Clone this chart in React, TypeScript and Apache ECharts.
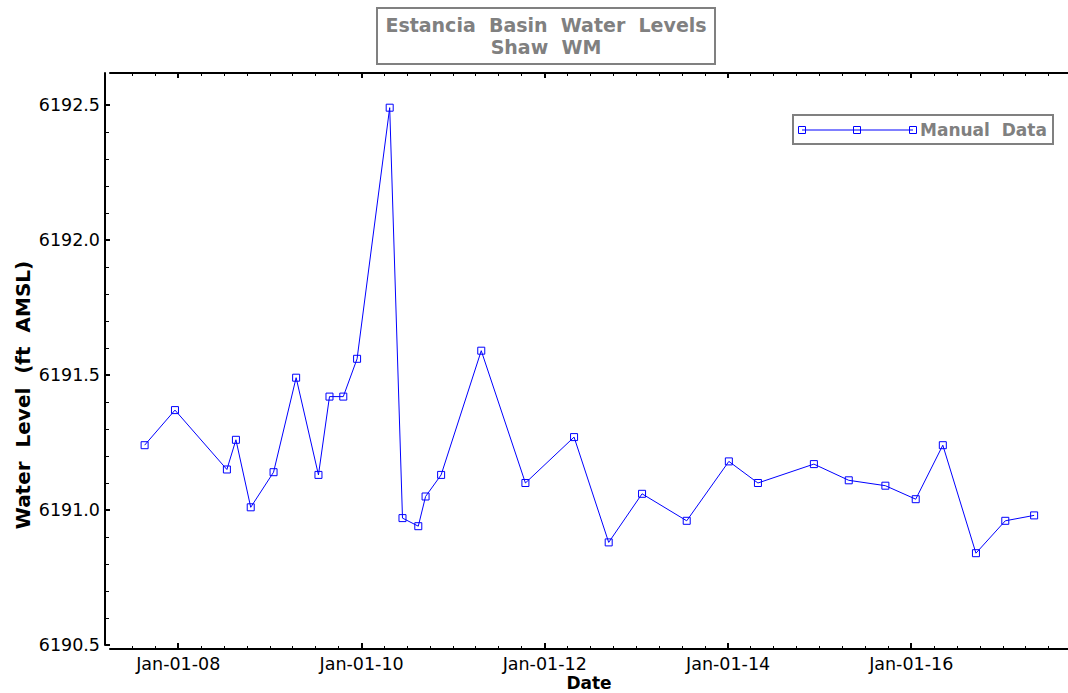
import React, { useEffect, useRef } from "react";
import * as echarts from "echarts";

// ---- Data ----
const DATES = [
  "2007-08-20", "2007-12-19", "2008-07-13", "2008-08-18", "2008-10-16",
  "2009-01-15", "2009-04-15", "2009-07-13", "2009-08-26", "2009-10-20",
  "2009-12-14", "2010-04-23", "2010-06-13", "2010-08-15", "2010-09-13",
  "2010-11-14", "2011-04-23", "2011-10-16", "2012-04-27", "2012-09-12",
  "2013-01-23", "2013-07-20", "2014-01-04", "2014-04-30", "2014-12-09",
  "2015-04-27", "2015-09-20", "2016-01-19", "2016-05-06", "2016-09-15",
  "2017-01-10", "2017-05-05",
];
const LEVELS = [
  6191.24, 6191.37, 6191.15, 6191.26, 6191.01,
  6191.14, 6191.49, 6191.13, 6191.42, 6191.42,
  6191.56, 6192.49, 6190.97, 6190.94, 6191.05,
  6191.13, 6191.59, 6191.10, 6191.27, 6190.88,
  6191.06, 6190.96, 6191.18, 6191.10, 6191.17,
  6191.11, 6191.09, 6191.04, 6191.24, 6190.84,
  6190.96, 6190.98,
];
const SERIES_NAME = "Manual  Data";
const TITLE_TEXT = "Estancia  Basin  Water  Levels\nShaw  WM";
const X_NAME = "Date";
const Y_NAME = "Water  Level  (ft  AMSL)";

const X_MAJOR_TICKS = ["2008-01-01", "2010-01-01", "2012-01-01", "2014-01-01", "2016-01-01"];
const X_MIN_DATE = "2007-04-04";
const X_MAX_DATE = "2017-09-17";
const Y_MAJOR_TICKS = [6190.5, 6191.0, 6191.5, 6192.0, 6192.5];
const Y_MINOR_TICKS = [
  6190.6, 6190.7, 6190.8, 6190.9,
  6191.1, 6191.2, 6191.3, 6191.4,
  6191.6, 6191.7, 6191.8, 6191.9,
  6192.1, 6192.2, 6192.3, 6192.4,
];
const Y_MIN = 6190.5;
const Y_MAX = 6192.6185;

const MONTHS = ["Jan", "Feb", "Mar", "Apr", "May", "Jun", "Jul", "Aug", "Sep", "Oct", "Nov", "Dec"];
const FONT = "DejaVu Sans";

function quarterTicks(minTs: number, maxTs: number, majors: number[]): number[] {
  const out: number[] = [];
  for (let y = 2006; y <= 2018; y++) {
    for (let m = 0; m < 12; m += 3) {
      const t = Date.UTC(y, m, 1);
      if (t > minTs && t < maxTs && majors.indexOf(t) < 0) out.push(t);
    }
  }
  return out;
}

export default function App() {
  const ref = useRef<HTMLDivElement>(null);
  useEffect(() => {
    if (!ref.current) return;
    const chart = echarts.init(ref.current, undefined, { renderer: "svg" });
    const xMin = Date.parse(X_MIN_DATE);
    const xMax = Date.parse(X_MAX_DATE);
    const xMajor = X_MAJOR_TICKS.map((d) => Date.parse(d));
    const xMinor = quarterTicks(xMin, xMax, xMajor);
    const fmt = (v: number) => {
      const d = new Date(v);
      const yy = String(d.getUTCFullYear() % 100).padStart(2, "0");
      const dd = String(d.getUTCDate()).padStart(2, "0");
      return `${MONTHS[d.getUTCMonth()]}-${dd}-${yy}`;
    };
    const blue = "#0000ff";
    const gray = "#808080";
    const baseX = {
      type: "value",
      gridIndex: 0,
      min: xMin,
      max: xMax,
      splitLine: { show: false },
    };
    const baseY = {
      type: "value",
      gridIndex: 0,
      min: Y_MIN,
      max: Y_MAX,
      splitLine: { show: false },
    };
    chart.setOption({
      animation: false,
      backgroundColor: "#ffffff",
      title: {
        text: TITLE_TEXT,
        left: 537,
        top: 8,
        textAlign: "center",
        padding: [6, 9, 6, 9],
        borderColor: gray,
        borderWidth: 2,
        textStyle: {
          fontFamily: FONT,
          fontSize: 19,
          fontWeight: "bold",
          color: gray,
          lineHeight: 22,
        },
      },
      grid: {
        left: 110,
        right: 0,
        top: 73,
        bottom: 48,
        containLabel: false,
        outerBoundsMode: "none",
      },
      xAxis: [
        {
          ...baseX,
          position: "bottom",
          offset: 4,
          axisLine: { show: true, lineStyle: { color: "#000", width: 2 } },
          axisTick: { show: true, inside: true, length: 6, customValues: xMajor, lineStyle: { color: "#000", width: 2 } },
          axisLabel: {
            show: true,
            customValues: xMajor,
            formatter: fmt,
            fontFamily: FONT,
            fontSize: 17.5,
            color: "#000",
            margin: 6,
          },
          name: X_NAME,
          nameLocation: "middle",
          nameGap: 25,
          nameMoveOverlap: false,
          nameTextStyle: { fontFamily: FONT, fontSize: 17, fontWeight: "bold", color: "#000", lineHeight: 17 },
        },
        {
          ...baseX,
          position: "bottom",
          offset: 4,
          axisLine: { show: false },
          axisTick: { show: true, inside: true, length: 3, customValues: xMinor, lineStyle: { color: "#000", width: 1 } },
          axisLabel: { show: false },
        },
        {
          ...baseX,
          position: "top",
          offset: 0,
          axisLine: { show: true, lineStyle: { color: "#000", width: 2 } },
          axisTick: { show: true, inside: true, length: 5, customValues: xMajor, lineStyle: { color: "#000", width: 2 } },
          axisLabel: { show: false },
        },
        {
          ...baseX,
          position: "top",
          offset: 0,
          axisLine: { show: false },
          axisTick: { show: true, inside: true, length: 3, customValues: xMinor, lineStyle: { color: "#000", width: 1 } },
          axisLabel: { show: false },
        },
      ],
      yAxis: [
        {
          ...baseY,
          position: "left",
          offset: 5,
          axisLine: { show: true, lineStyle: { color: "#000", width: 2 } },
          axisTick: { show: true, inside: true, length: 5, customValues: Y_MAJOR_TICKS, lineStyle: { color: "#000", width: 2 } },
          axisLabel: {
            show: true,
            customValues: Y_MAJOR_TICKS,
            formatter: (v: number) => v.toFixed(1),
            fontFamily: FONT,
            fontSize: 17.5,
            color: "#000",
            margin: 5,
          },
          name: Y_NAME,
          nameLocation: "middle",
          nameRotate: 90,
          nameGap: 72,
          nameMoveOverlap: false,
          nameTextStyle: {
            fontFamily: FONT,
            fontSize: 20,
            fontWeight: "bold",
            color: "#000",
            padding: [0, 72, 0, 0],
          },
        },
        {
          ...baseY,
          position: "left",
          offset: 5,
          axisLine: { show: false },
          axisTick: { show: true, inside: true, length: 4, customValues: Y_MINOR_TICKS, lineStyle: { color: "#000", width: 1 } },
          axisLabel: { show: false },
        },
      ],
      series: [
        {
          name: SERIES_NAME,
          type: "line",
          xAxisIndex: 0,
          yAxisIndex: 0,
          data: DATES.map((d, i) => [Date.parse(d), LEVELS[i]]),
          symbol: "rect",
          symbolSize: 7,
          showAllSymbol: true,
          lineStyle: { color: blue, width: 1 },
          itemStyle: { color: "rgba(0,0,0,0)", borderColor: blue, borderWidth: 1 },
          z: 3,
        },
      ],
      graphic: [
        {
          type: "group",
          z: 10,
          children: [
            {
              type: "rect",
              shape: { x: 793, y: 115, width: 260, height: 29 },
              style: { fill: "#fff", stroke: gray, lineWidth: 2 },
            },
            {
              type: "line",
              shape: { x1: 802, y1: 130, x2: 913, y2: 130 },
              style: { stroke: blue, lineWidth: 1 },
            },
            {
              type: "rect",
              shape: { x: 798.5, y: 126.5, width: 7, height: 7 },
              style: { fill: "rgba(0,0,0,0)", stroke: blue, lineWidth: 1 },
            },
            {
              type: "rect",
              shape: { x: 853.5, y: 126.5, width: 7, height: 7 },
              style: { fill: "rgba(0,0,0,0)", stroke: blue, lineWidth: 1 },
            },
            {
              type: "rect",
              shape: { x: 909.5, y: 126.5, width: 7, height: 7 },
              style: { fill: "rgba(0,0,0,0)", stroke: blue, lineWidth: 1 },
            },
            {
              type: "text",
              x: 920,
              y: 130,
              style: {
                text: SERIES_NAME,
                fill: gray,
                font: `bold 17px "${FONT}"`,
                verticalAlign: "middle",
                align: "left",
              },
            },
          ],
        },
      ],
    });
    return () => chart.dispose();
  }, []);
  return (
    <div
      ref={ref}
      style={{ position: "fixed", left: 0, top: 0, width: 1068, height: 693, background: "#fff" }}
    />
  );
}
